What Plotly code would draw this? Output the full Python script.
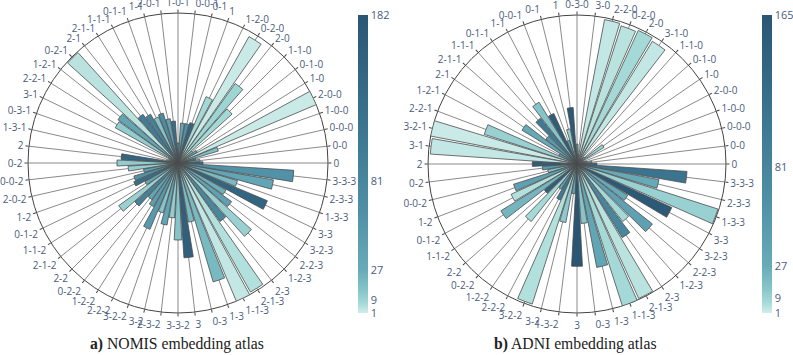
import numpy as np
import plotly.graph_objects as go

# ---------------- data ----------------
nomis_categories = ["0", "0-0", "0-0-0", "1-0-0", "2-0-0", "1-0", "0-1-0", "1-1-0", "2-0", "0-2-0",
                    "1-2-0", "1", "0-1", "0-0-1", "1-0-1", "2-0-1", "1-1", "0-1-1", "1-1-1", "2-1-1",
                    "2-1", "0-2-1", "1-2-1", "2-2-1", "3-1", "0-3-1", "1-3-1", "2", "0-2", "0-0-2",
                    "2-0-2", "1-2", "0-1-2", "1-1-2", "2-1-2", "2-2", "0-2-2", "1-2-2", "2-2-2", "3-2-2",
                    "3-2", "2-3-2", "3-3-2", "3", "0-3", "1-3", "1-1-3", "2-1-3", "2-3", "1-2-3",
                    "2-2-3", "3-2-3", "3-3", "1-3-3", "2-3-3", "3-3-3"]
nomis_length = [25, 22, 18, 42, 150, 22, 18, 73, 98, 145,
                72, 42, 40, 40, 20, 42, 45, 52, 50, 56,
                60, 149, 74, 72, 10, 8, 12, 57, 61, 50,
                35, 46, 48, 38, 73, 58, 45, 50, 72, 52,
                63, 55, 77, 95, 60, 124, 150, 148, 72, 99,
                66, 55, 97, 62, 97, 116]
nomis_count = [120, 30, 90, 18, 2, 30, 12, 7, 9, 2,
               7, 150, 60, 35, 40, 130, 40, 70, 15, 90,
               100, 4, 35, 12, 10, 20, 12, 150, 12, 10,
               40, 60, 130, 35, 10, 90, 35, 45, 50, 15,
               35, 12, 15, 160, 20, 20, 3, 5, 80, 10,
               40, 25, 150, 20, 35, 60]

adni_categories = ["0", "0-0", "0-0-0", "1-0-0", "2-0-0", "1-0", "0-1-0", "1-1-0", "3-1-0", "2-0",
                   "0-2-0", "2-2-0", "3-0", "0-3-0", "1", "0-1", "0-0-1", "1-1", "0-1-1", "1-1-1",
                   "2-1-1", "2-1", "1-2-1", "2-2-1", "3-2-1", "3-1", "2", "0-2", "0-0-2", "1-2",
                   "0-1-2", "1-1-2", "2-2", "0-2-2", "1-2-2", "2-2-2", "3-2-2", "3-2", "1-3-2", "3",
                   "0-3", "1-3", "1-1-3", "2-1-3", "2-3", "1-2-3", "2-2-3", "3-2-3", "3-3", "1-3-3",
                   "2-3-3", "3-3-3"]
adni_length = [20, 15, 10, 8, 6, 32, 10, 8, 145, 148,
               146, 148, 10, 20, 57, 36, 25, 56, 73, 59,
               40, 65, 20, 98, 150, 148, 45, 35, 30, 67,
               73, 90, 42, 74, 30, 40, 148, 60, 30, 103,
               60, 106, 150, 149, 87, 74, 97, 60, 105, 149,
               84, 111]
adni_count = [130, 40, 12, 8, 6, 10, 12, 8, 3, 7,
              4, 3, 10, 40, 160, 12, 40, 150, 15, 100,
              50, 30, 30, 10, 2, 3, 150, 50, 15, 40,
              5, 22, 150, 7, 40, 100, 5, 13, 35, 165,
              15, 35, 7, 4, 80, 7, 40, 30, 160, 10,
              30, 110]

nomis_ticks = [1, 9, 27, 81, 182]
adni_ticks = [1, 9, 27, 81, 165]

titles = ["<b>a)</b> NOMIS embedding atlas", "<b>b)</b> ADNI embedding atlas"]

teal = ["rgb(209,238,234)", "rgb(168,219,217)", "rgb(133,196,201)", "rgb(104,171,184)",
        "rgb(79,144,166)", "rgb(59,117,143)", "rgb(42,86,116)"]


def make_scale(ticks):
    # colours spread evenly over the tick values (1, 9, 27, 81, max)
    t_stops = np.linspace(0, 1, len(ticks))
    vmin, vmax = ticks[0], ticks[-1]
    scale = []
    for k, c in enumerate(teal):
        t = k / (len(teal) - 1)
        v = np.interp(t, t_stops, ticks)
        scale.append([float((v - vmin) / (vmax - vmin)), c])
    return scale


W, H = 793, 355
FONT = "Open Sans"


def px_x(x):
    return x / W


def px_y(y):
    return 1 - y / H


def polar_layout(cats, cx, cy, R):
    return dict(
        domain=dict(x=[px_x(cx - R), px_x(cx + R)], y=[px_y(cy + R), px_y(cy - R)]),
        bgcolor="white",
        bargap=0.12,
        angularaxis=dict(type="category", categoryorder="array", categoryarray=cats,
                         direction="counterclockwise", rotation=0,
                         showline=True, linecolor="#444", linewidth=1,
                         showgrid=True, gridcolor="#8a8a8a", gridwidth=0.8,
                         ticks="outside", ticklen=3, tickcolor="#444",
                         tickfont=dict(family=FONT, size=10, color="#4a5c7c"),
                         layer="below traces"),
        radialaxis=dict(visible=False, range=[0, 150]),
    )


def colorbar(x_px, ticks):
    return dict(x=px_x(x_px), xanchor="left", xpad=0, y=px_y(164), yanchor="middle", ypad=0,
                thickness=10, len=298, lenmode="pixels", outlinewidth=0,
                tickvals=ticks, ticktext=[str(t) for t in ticks], ticks="",
                tickfont=dict(family=FONT, size=11, color="#4a5c7c"))


fig = go.Figure()
fig.add_trace(go.Barpolar(
    r=nomis_length, theta=nomis_categories, subplot="polar",
    marker=dict(color=nomis_count, colorscale=make_scale(nomis_ticks),
                cmin=nomis_ticks[0], cmax=nomis_ticks[-1],
                line=dict(color="#4d4d4d", width=0.8),
                colorbar=colorbar(358, nomis_ticks)),
    showlegend=False))
fig.add_trace(go.Barpolar(
    r=adni_length, theta=adni_categories, subplot="polar2",
    marker=dict(color=adni_count, colorscale=make_scale(adni_ticks),
                cmin=adni_ticks[0], cmax=adni_ticks[-1],
                line=dict(color="#4d4d4d", width=0.8),
                colorbar=colorbar(762, adni_ticks)),
    showlegend=False))

fig.update_layout(
    width=W, height=H,
    margin=dict(l=0, r=0, t=0, b=0, autoexpand=False),
    paper_bgcolor="white", plot_bgcolor="white",
    polar=polar_layout(nomis_categories, 178, 163, 150),
    polar2=polar_layout(adni_categories, 577, 164, 149),
    annotations=[
        dict(text=titles[0], x=px_x(177), y=px_y(344), xref="paper", yref="paper",
             showarrow=False, xanchor="center", yanchor="middle",
             font=dict(family="Liberation Serif", size=15.7, color="#222")),
        dict(text=titles[1], x=px_x(575), y=px_y(344), xref="paper", yref="paper",
             showarrow=False, xanchor="center", yanchor="middle",
             font=dict(family="Liberation Serif", size=15.7, color="#222")),
    ],
)

fig.write_html("out.html",
               config={"displayModeBar": False},
               post_script="document.body.style.margin='0px';"
                           "document.body.style.overflow='hidden';")
